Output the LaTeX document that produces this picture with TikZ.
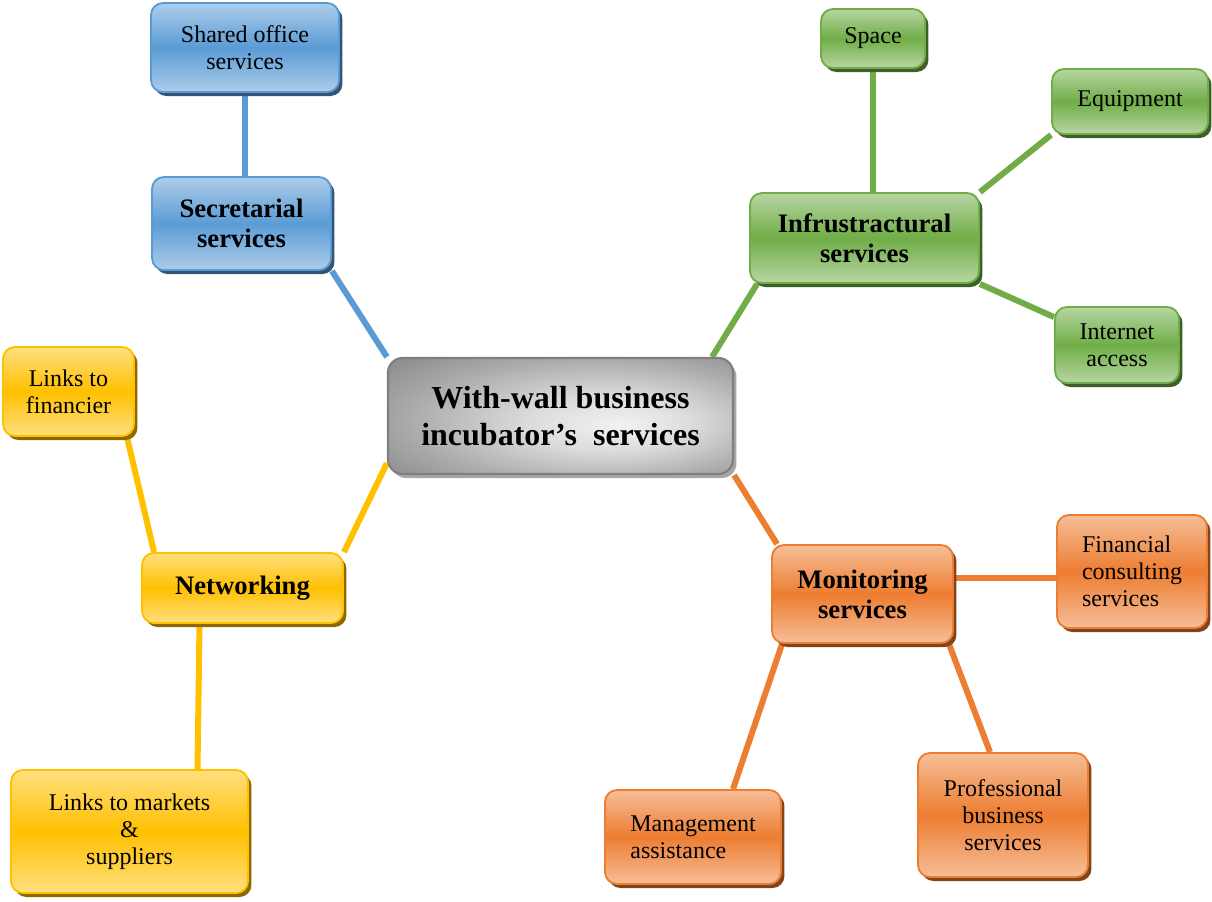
\documentclass[tikz,border=0pt]{standalone}
\usepackage{fontspec}
\setmainfont{Liberation Serif}
\usetikzlibrary{shadows,backgrounds,calc}

\definecolor{cblue}{HTML}{5B9BD5}
\definecolor{cgreen}{HTML}{70AD47}
\definecolor{corange}{HTML}{ED7D31}
\definecolor{cyellow}{HTML}{FFC000}
\definecolor{cgrayline}{HTML}{7F7F7F}

% off-centre radial gray used for the hub box
\pgfdeclareradialshading{hubshade}{\pgfpoint{9bp}{-4bp}}{%
  color(0bp)=(black!5); color(12bp)=(black!14); color(26bp)=(black!32);
  color(42bp)=(black!50); color(60bp)=(black!52)}

\tikzset{
  box/.style={rounded corners=9pt, draw=#1, line width=1.4pt, inner sep=0pt,
    align=center, font=\fontsize{18}{20.25}\selectfont,
    top color=#1!50!white, bottom color=#1!50!white, middle color=#1,
    drop shadow={shadow xshift=2.6pt, shadow yshift=-3pt, fill=#1!55!black, opacity=1}},
  mainbox/.style={box=#1, font=\bfseries\fontsize{20}{22.5}\selectfont},
  link/.style={line width=4.5pt, draw=#1},
  hub/.style={rounded corners=11pt, draw=cgrayline, line width=1.6pt, inner sep=0pt,
    align=center, font=\bfseries\fontsize{24}{27.75}\selectfont,
    shading=hubshade,
    drop shadow={shadow xshift=2.6pt, shadow yshift=-3pt, fill=black!35, opacity=1}},
}

\begin{document}
\begin{tikzpicture}[x=0.75pt, y=-0.75pt]
\useasboundingbox (0,0) rectangle (1212,901);

% central hub
\node[hub, minimum width=258.75pt, minimum height=87pt] (center) at (560.5,416)
  {With-wall business\\incubator’s\ \ services};

% secretarial branch
\node[mainbox=cblue, minimum width=134.25pt, minimum height=69.75pt] (secret) at (241.5,223.5)
  {Secretarial\\services};
\node[box=cblue, minimum width=141pt, minimum height=66.75pt] (shared) at (245,47.5)
  {Shared office\\services};

% infrastructural branch
\node[mainbox=cgreen, minimum width=171.75pt, minimum height=67.5pt] (infra) at (864.5,238)
  {Infrustractural\\services};
\node[box=cgreen, minimum width=78pt, minimum height=44.25pt] (space) at (873,38.5) {Space};
\node[box=cgreen, minimum width=117pt, minimum height=48.75pt] (equip) at (1130,101.5) {Equipment};
\node[box=cgreen, minimum width=93pt, minimum height=57pt] (internet) at (1117,345)
  {Internet\\access};

% networking branch
\node[mainbox=cyellow, minimum width=150.75pt, minimum height=52.5pt] (network) at (242.5,588)
  {Networking};
\node[box=cyellow, minimum width=98.25pt, minimum height=66.75pt] (lfin) at (68.5,391.5)
  {Links to\\financier};
\node[box=cyellow, minimum width=177.75pt, minimum height=92.25pt] (markets) at (129.5,831.5)
  {Links to markets\\\&\\suppliers};

% monitoring branch
\node[mainbox=corange, minimum width=135.75pt, minimum height=73.5pt] (monitor) at (862.5,594)
  {Monitoring\\services};
\node[box=corange, align=left, minimum width=112.5pt, minimum height=84.75pt] (financial) at (1132,571.5)
  {Financial\\consulting\\services};
\node[box=corange, align=left, minimum width=132pt, minimum height=70.5pt] (mgmt) at (693,837)
  {Management\\assistance};
\node[box=corange, minimum width=127.5pt, minimum height=93pt] (prof) at (1003,815)
  {Professional\\business\\services};

% connectors, kept behind the boxes
\coordinate (mf) at ($(monitor.east)+(0,-16)$);
\begin{scope}[on background layer]
  \draw[link=cblue] (shared.south) -- (shared.south |- secret.north);
  \draw[link=cblue] (secret.south east) -- (center.north west);

  \draw[link=cgreen] ($(center.north east)+(-22,0)$) -- ($(infra.south west)+(8,0)$);
  \draw[link=cgreen] (space.south) -- (space.south |- infra.north);
  \draw[link=cgreen] (infra.north east) -- (equip.south west);
  \draw[link=cgreen] (infra.south east) -- ($(internet.north west)+(0,11)$);

  \draw[link=corange] (center.south east) -- ($(monitor.north west)+(6,0)$);
  \draw[link=corange] (mf) -- (mf -| financial.west);
  \draw[link=corange] ($(monitor.south west)+(11,0)$) -- ($(mgmt.north)+(40,0)$);
  \draw[link=corange] ($(monitor.south east)+(-5,0)$) -- ($(prof.north)+(-13,0)$);

  \draw[link=cyellow] ($(center.south west)+(0,-12)$) -- (network.north east);
  \draw[link=cyellow] ($(network.north west)+(13,0)$) -- ($(lfin.south east)+(-8,0)$);
  \draw[link=cyellow] ($(network.south)+(-43,0)$) -- ($(markets.north)+(68,0)$);
\end{scope}
\end{tikzpicture}
\end{document}
